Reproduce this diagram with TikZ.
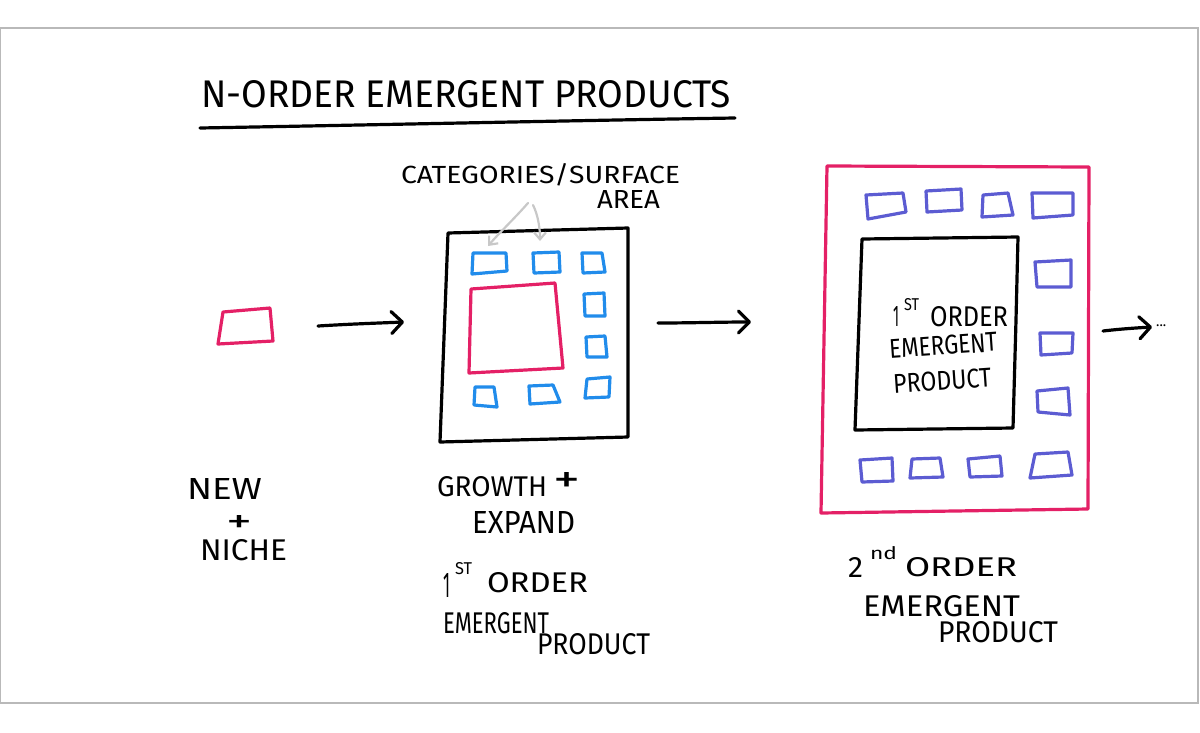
\documentclass[tikz,border=0pt]{standalone}
\usepackage{fontspec}
\setmainfont{Fira Sans}
\usepackage{graphicx}
\usetikzlibrary{arrows.meta}
\definecolor{hpink}{RGB}{228,32,102}
\definecolor{hblue}{RGB}{33,140,235}
\definecolor{hpurple}{RGB}{92,92,210}
\definecolor{hgray}{RGB}{200,200,200}
\definecolor{hframe}{RGB}{185,185,185}
\newcommand\handtxt[3]{\resizebox{#1pt}{#2pt}{#3}}
\tikzset{
  pen/.style={line width=3.2pt, line join=round, line cap=round},
  blackpen/.style={pen, draw=black},
  pinkpen/.style={pen, draw=hpink},
  bluepen/.style={pen, draw=hblue},
  purplepen/.style={pen, draw=hpurple},
  flowarrow/.style={pen, draw=black, -{Straight Barb[length=11pt,width=22pt,line cap=round,line join=round]}},
  annot/.style={line width=2.2pt, draw=hgray, line cap=round, -{Straight Barb[length=7pt,width=12pt]}},
  lbl/.style={anchor=south west, inner sep=0pt, outer sep=0pt},
}
\begin{document}
\begin{tikzpicture}[x=1pt,y=-1pt]
\useasboundingbox (0,0) rectangle (1200,732);
\draw[hframe, line width=1.3pt] (0.8,28) rectangle (1198,703);

% title
\node[lbl] (title) at (201,108) {\handtxt{530}{27}{N-ORDER EMERGENT PRODUCTS}};
\draw[blackpen] (200,128) .. controls (420,124) and (600,120) .. (735,118);

% stage 0: new niche product
\draw[pinkpen] (223,312) -- (270,308) -- (273,341) -- (218,344) -- cycle;
\coordinate (s0) at (246,326);
\node[lbl] (new) at (187,499) {\handtxt{75}{21}{NEW}};
\node[lbl] (plus0) at (226,532) {\handtxt{26}{17}{+}};
\node[lbl] (niche) at (200,561) {\handtxt{87}{21}{NICHE}};

% arrow 1
\coordinate (a1s) at (318,326);
\coordinate (a1e) at (404,322);
\draw[flowarrow] (a1s) .. controls (350,324) and (380,323) .. (a1e);

% stage 1
\draw[blackpen] (448,233) -- (628,228) -- (628,437) -- (440,442) -- cycle;
\draw[pinkpen] (471,289) -- (555,283) -- (563,368) -- (469,373) -- cycle;
\draw[bluepen] (473,253) -- (506,253) -- (507,271) -- (472,274) -- cycle;
\draw[bluepen] (533,253) -- (559,252) -- (560,272) -- (534,273) -- cycle;
\draw[bluepen] (582,253) -- (602,253) -- (605,272) -- (583,273) -- cycle;
\draw[bluepen] (584,294) -- (604,293) -- (605,316) -- (585,316) -- cycle;
\draw[bluepen] (586,337) -- (605,336) -- (607,357) -- (587,357) -- cycle;
\draw[bluepen] (587,379) -- (610,377) -- (609,397) -- (585,398) -- cycle;
\draw[bluepen] (475,387) -- (494,387) -- (497,407) -- (474,405) -- cycle;
\draw[bluepen] (529,386) -- (553,385) -- (560,402) -- (530,404) -- cycle;
\coordinate (cat1) at (488,246);
\coordinate (cat2) at (540,241);

\node[lbl] (cat) at (401,186) {\handtxt{279}{20}{CATEGORIES/SURFACE}};
\node[lbl] (area) at (597,208) {\handtxt{63}{18}{AREA}};
\coordinate (g1) at (528,203);
\coordinate (g2) at (533,205);
\draw[annot] (g1) .. controls (515,218) and (500,232) .. (cat1);
\draw[annot] (g2) .. controls (538,215) and (540,228) .. (cat2);

\node[lbl] (growth) at (437,497) {\handtxt{110}{20}{GROWTH}};
\node[lbl] (plus1) at (553,492) {\handtxt{27}{20}{+}};
\node[lbl] (expand) at (472,533) {\handtxt{103}{22}{EXPAND}};
\node[lbl] (one1) at (443,597) {\handtxt{7}{24}{1}};
\node[lbl] (st1) at (455,575) {\handtxt{17}{12}{ST}};
\node[lbl] (order1) at (487,593) {\handtxt{101}{20}{ORDER}};
\node[lbl] (emerg1) at (443,634) {\handtxt{106}{21}{EMERGENT}};
\node[lbl] (prod1) at (537,655) {\handtxt{113}{21}{PRODUCT}};

% arrow 2
\coordinate (a2s) at (658,323);
\coordinate (a2e) at (751,322);
\draw[flowarrow] (a2s) .. controls (690,323) and (720,322) .. (a2e);

% stage 2
\draw[pinkpen] (827,166) -- (1089,167) -- (1088,509) -- (821,513) -- cycle;
\draw[blackpen] (862,239) -- (1018,237) -- (1016,320) -- (1013,428) -- (855,430) -- cycle;
\draw[purplepen] (866,195) -- (903,193) -- (906,212) -- (868,219) -- cycle;
\draw[purplepen] (926,191) -- (961,189) -- (962,210) -- (927,212) -- cycle;
\draw[purplepen] (983,195) -- (1008,193) -- (1013,215) -- (982,217) -- cycle;
\draw[purplepen] (1032,193) -- (1073,193) -- (1073,215) -- (1033,218) -- cycle;
\draw[purplepen] (1035,262) -- (1071,260) -- (1071,287) -- (1037,287) -- cycle;
\draw[purplepen] (1040,333) -- (1073,333) -- (1072,353) -- (1041,355) -- cycle;
\draw[purplepen] (1037,391) -- (1068,388) -- (1070,415) -- (1038,412) -- cycle;
\draw[purplepen] (860,460) -- (892,458) -- (893,481) -- (862,482) -- cycle;
\draw[purplepen] (912,459) -- (940,458) -- (943,477) -- (910,478) -- cycle;
\draw[purplepen] (968,459) -- (1000,456) -- (1002,476) -- (970,477) -- cycle;
\draw[purplepen] (1035,454) -- (1068,452) -- (1072,475) -- (1030,478) -- cycle;

\node[lbl] (one2) at (893,326) {\handtxt{6}{20}{1}};
\node[lbl] (st2) at (904,311) {\handtxt{15}{12}{ST}};
\node[lbl] (order2) at (930,327) {\handtxt{78}{20}{ORDER}};
\node[lbl, rotate=4] (emerg2) at (890,359) {\handtxt{108}{19}{EMERGENT}};
\node[lbl, rotate=4] (prod2) at (894,394) {\handtxt{98}{19}{PRODUCT}};

\node[lbl] (two) at (848,577) {\handtxt{15}{20}{2}};
\node[lbl] (nd) at (870,560) {\handtxt{27}{13}{nd}};
\node[lbl] (order3) at (905,577) {\handtxt{112}{19}{ORDER}};
\node[lbl] (emerg3) at (863,617) {\handtxt{157}{21}{EMERGENT}};
\node[lbl] (prod3) at (938,643) {\handtxt{120}{21}{PRODUCT}};

% arrow 3
\coordinate (a3s) at (1103,331);
\coordinate (a3e) at (1152,327);
\draw[flowarrow] (a3s) .. controls (1120,329) and (1135,328) .. (a3e);
\node[anchor=west, inner sep=0pt, font=\fontsize{14}{14}\selectfont] (dots) at (1156,326) {...};
\end{tikzpicture}
\end{document}
